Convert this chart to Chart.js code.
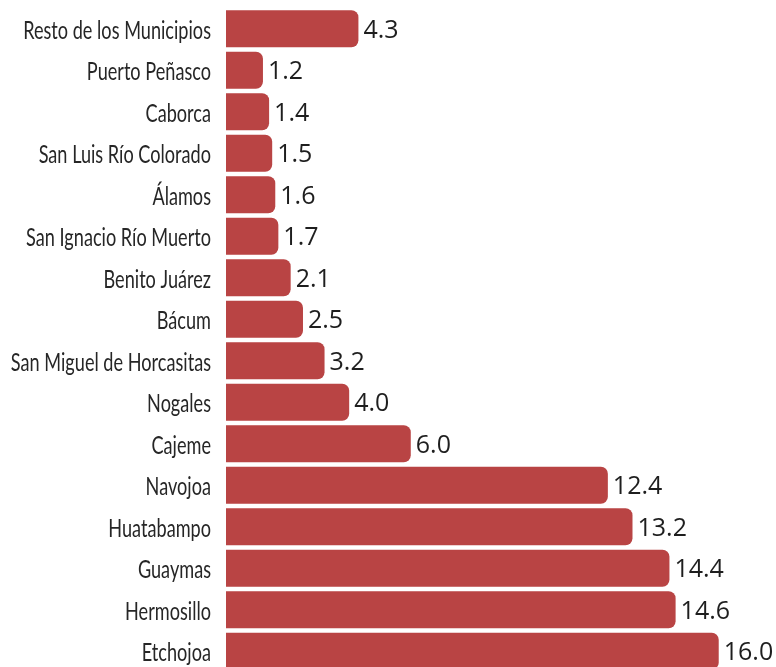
<!DOCTYPE html>
<html lang="es">
<head>
    <meta charset="utf-8">
    <title>Municipios</title>
    <script src="https://cdn.jsdelivr.net/npm/chart.js"></script>
    <style>
        html, body {
            margin: 0;
            padding: 0;
            background: #ffffff;
            overflow: hidden;
        }
        .chart-container {
            width: 776px;
            height: 672px;
        }
    </style>
</head>
<body>
    <div class="chart-container">
        <canvas id="barChart"></canvas>
    </div>

    <script>
        const municipios = [
            'Resto de los Municipios', 'Puerto Peñasco', 'Caborca', 'San Luis Río Colorado',
            'Álamos', 'San Ignacio Río Muerto', 'Benito Juárez', 'Bácum',
            'San Miguel de Horcasitas', 'Nogales', 'Cajeme', 'Navojoa',
            'Huatabampo', 'Guaymas', 'Hermosillo', 'Etchojoa'
        ];
        const valores = [4.3, 1.2, 1.4, 1.5, 1.6, 1.7, 2.1, 2.5, 3.2, 4.0, 6.0, 12.4, 13.2, 14.4, 14.6, 16.0];

        // nombres de municipio (texto alto y estrecho, como en el original)
        const categoryLabels = {
            id: 'categoryLabels',
            afterDraw(chart) {
                const c = chart.ctx;
                const y = chart.scales.y;
                c.save();
                c.font = '25px Lato, sans-serif';
                c.fillStyle = '#262626';
                c.textAlign = 'right';
                c.textBaseline = 'alphabetic';
                chart.data.labels.forEach((label, i) => {
                    c.save();
                    c.translate(211, y.getPixelForValue(i) + 10);
                    c.scale(0.725, 1);
                    c.fillText(label, 0, 0);
                    c.restore();
                });
                c.restore();
            }
        };

        // etiquetas de valor al final de cada barra
        const valueLabels = {
            id: 'valueLabels',
            afterDatasetsDraw(chart) {
                const c = chart.ctx;
                const meta = chart.getDatasetMeta(0);
                c.save();
                c.font = '25px "Open Sans", sans-serif';
                c.fillStyle = '#1e1e1e';
                c.textAlign = 'left';
                c.textBaseline = 'middle';
                meta.data.forEach((bar, i) => {
                    c.fillText(valores[i].toFixed(1), bar.x + 5, bar.y + 2);
                });
                c.restore();
            }
        };

        const ctx = document.getElementById('barChart').getContext('2d');
        new Chart(ctx, {
            type: 'bar',
            data: {
                labels: municipios,
                datasets: [{
                    data: valores,
                    backgroundColor: '#b94444',
                    borderWidth: 0,
                    borderRadius: { topRight: 7, bottomRight: 7 },
                    borderSkipped: 'start',
                    barPercentage: 0.89,
                    categoryPercentage: 1.0
                }]
            },
            options: {
                indexAxis: 'y',
                responsive: true,
                maintainAspectRatio: false,
                animation: false,
                layout: { padding: { top: 8, right: 0, bottom: 0, left: 0 } },
                plugins: {
                    legend: { display: false },
                    tooltip: { enabled: false }
                },
                scales: {
                    x: {
                        display: false,
                        min: 0,
                        max: 17.86
                    },
                    y: {
                        grid: { display: false },
                        border: { display: false },
                        ticks: { display: false },
                        afterFit(scale) {
                            scale.width = 226;
                            scale.paddingTop = 0;
                            scale.paddingBottom = 0;
                        }
                    }
                }
            },
            plugins: [valueLabels, categoryLabels]
        });
    </script>
</body>
</html>
